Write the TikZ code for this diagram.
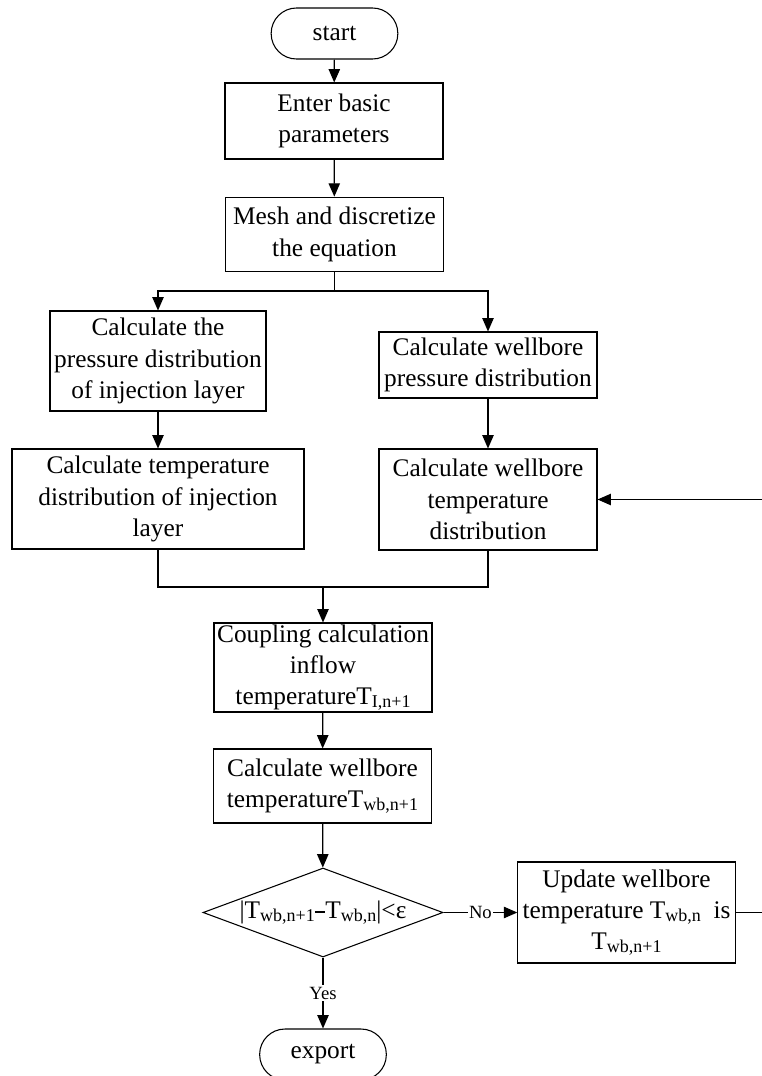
\documentclass[tikz,border=0pt]{standalone}
\usepackage{fontspec}
\setmainfont{Liberation Serif}
\usetikzlibrary{shapes.geometric, arrows.meta}

\newcommand{\lowidx}[1]{\raisebox{-0.25ex}{\fontsize{13.5}{15}\selectfont #1}}

\begin{document}
\begin{tikzpicture}[
        x=0.75pt, y=-0.75pt,
        every node/.append style={font=\fontsize{19}{23.5}\selectfont, align=center, inner sep=0pt},
        box/.style={draw, rectangle, line width=0.8pt},
        term/.style={draw, rectangle, rounded corners=19pt, line width=0.8pt, minimum width=95pt, minimum height=38.25pt},
        decision/.style={draw, diamond, line width=0.8pt, minimum width=180pt, minimum height=66.75pt},
        tag/.style={fill=white, inner sep=1pt, font=\fontsize{14}{16}\selectfont},
        line/.style={line width=0.9pt},
        flow/.style={line width=0.9pt, -{Triangle[length=10pt, width=8.5pt]}}
    ]
        \useasboundingbox (0,0) rectangle (762,1076);

        \node[term] (start) at (334.5, 33.5) {start};
        \node[box, minimum width=163.5pt, minimum height=57pt] (enter) at (334, 121) {Enter basic\\parameters};
        \node[box, minimum width=163pt, minimum height=56pt] (mesh) at (334.5, 234.5) {Mesh and discretize\\the equation};
        \node[box, minimum width=162pt, minimum height=75pt] (pinj) at (158, 361) {Calculate the\\pressure distribution\\of injection layer};
        \node[box, minimum width=219pt, minimum height=75pt] (tinj) at (158, 499) {Calculate temperature\\distribution of injection\\layer};
        \node[box, minimum width=163.5pt, minimum height=49.5pt] (pwb) at (488, 365) {Calculate wellbore\\pressure distribution};
        \node[box, minimum width=163.5pt, minimum height=75.75pt] (twb) at (488, 499.5) {Calculate wellbore\\temperature\\distribution};
        \node[box, minimum width=163.5pt, minimum height=66.75pt] (couple) at (323, 667.5) {Coupling calculation\\inflow\\temperatureT\lowidx{I,n+1}};
        \node[box, minimum width=163pt, minimum height=55.5pt] (calc) at (322.5, 786) {Calculate wellbore\\temperatureT\lowidx{wb,n+1}};
        \node[decision] (dec) at (323, 912.5) {};
        \node (cond) at (dec.center) {|T\lowidx{wb,n+1}\rule[0.45ex]{8pt}{1.6pt}T\lowidx{wb,n}|<ε};
        \node[box, minimum width=163pt, minimum height=75.75pt] (update) at (626.5, 912.5) {Update wellbore\\temperature T\lowidx{wb,n}\ \ is\\T\lowidx{wb,n+1}};
        \node[term] (export) at (323, 1054.5) {export};

        \coordinate (split) at (334.5, 291);
        \coordinate (merge) at (323, 587);
        \coordinate (back) at (763, 912.5);

        \draw[flow] (start) -- (enter);
        \draw[flow] (enter) -- (mesh);
        \draw[line] (mesh) -- (split);
        \draw[flow] (split) -| (pinj);
        \draw[flow] (split) -| (pwb);
        \draw[flow] (pinj) -- (tinj);
        \draw[flow] (pwb) -- (twb);
        \draw[line] (tinj) |- (merge) -| (twb);
        \draw[flow] (merge) -- (couple);
        \draw[flow] (couple) -- (calc);
        \draw[flow] (calc) -- (dec);
        \draw[flow] (dec) -- node[tag] (no) {No} (update);
        \draw[flow] (dec) -- node[tag] (yes) {Yes} (export);
        \draw[flow] (update) -- (back) |- (twb);
    \end{tikzpicture}
\end{document}
